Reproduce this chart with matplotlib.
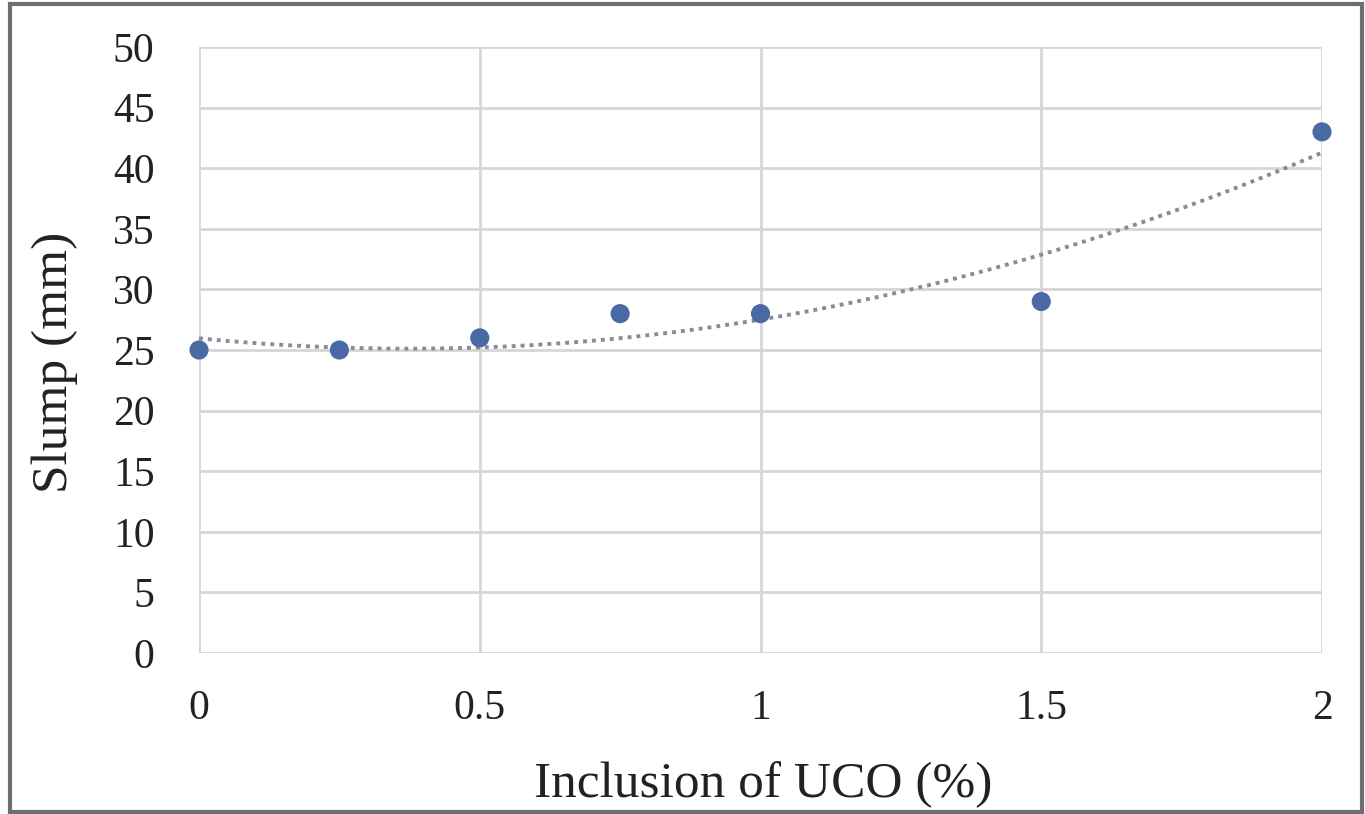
import numpy as np
import matplotlib
matplotlib.use("Agg")
import matplotlib.pyplot as plt
from matplotlib.patches import Rectangle

uco = [0, 0.25, 0.5, 0.75, 1.0, 1.5, 2.0]
slump = [25, 25, 26, 28, 28, 29, 43]
x_ticks = [0, 0.5, 1, 1.5, 2]
x_tick_labels = ["0", "0.5", "1", "1.5", "2"]
y_ticks = list(range(0, 51, 5))

plt.rcParams['font.family'] = ['Liberation Serif', 'DejaVu Serif']

fig = plt.figure(figsize=(13.65, 8.14), dpi=100)
ax = fig.add_axes([199/1365, 1 - 653/814, (1322-199)/1365, (653-47)/814])

for s in ax.spines.values():
    s.set_visible(False)
ax.set_xlim(0, 2)
ax.set_ylim(0, 50)
ax.set_xticks(x_ticks)
ax.set_xticklabels(x_tick_labels)
ax.set_yticks(y_ticks)
ax.tick_params(length=0, labelsize=30, colors='#222222')
ax.tick_params(axis='y', pad=32)
ax.tick_params(axis='x', pad=26)
ax.grid(True, color='#d6d6d6', lw=2.0)
ax.set_axisbelow(True)

# polynomial (order 2) trendline fitted to the data
coef = np.polyfit(uco, slump, 2)
xs = np.linspace(0, 2, 200)
ax.plot(xs, np.polyval(coef, xs), linestyle=(0, (1, 1.3)), color='#858d9c', lw=2.8, zorder=2)
ax.scatter(uco, slump, s=190, color='#4a6aa3', zorder=3, clip_on=False, edgecolors='none')

ax.set_ylabel("Slump (mm)", fontsize=37, color='#222222', va='center')
ax.yaxis.set_label_coords((55-199)/1123, (653-362)/606)
ax.set_xlabel("Inclusion of UCO (%)", fontsize=37, color='#222222', va='center')
ax.xaxis.set_label_coords((763-199)/1123, (653-785)/606)

fig.patches.append(Rectangle((10/1365, 2/814), 1352/1365, 808/814, transform=fig.transFigure,
                             fill=False, edgecolor='#6e6e6e', lw=3))

fig.savefig("out.png", dpi=100)
